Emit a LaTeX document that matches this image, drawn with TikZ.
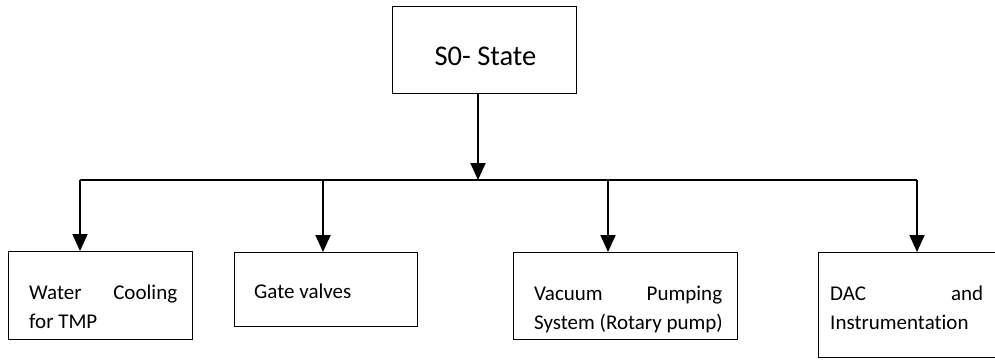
\documentclass[tikz,border=0pt]{standalone}
\usepackage{fontspec}
\setmainfont[Ligatures={NoCommon}]{Carlito}
\usetikzlibrary{arrows.meta}
\begin{document}
\begin{tikzpicture}[x=1pt,y=-1pt,
  box/.style={draw=black,line width=1.4pt,inner sep=0pt,anchor=north west},
  txt/.style={inner sep=0pt,anchor=base west,font=\fontsize{21}{25}\selectfont},
  link/.style={line width=1.9pt},
  arr/.style={line width=1.9pt,-{Triangle[width=15pt,length=17pt]}}]
\useasboundingbox (0,0) rectangle (995,360);
\clip (0,0) rectangle (995,360);
% top box
\node[box,minimum width=184pt,minimum height=87pt] (top) at (392,6) {};
\node[inner sep=0pt,anchor=base,font=\fontsize{28.5}{32}\selectfont] (toptxt) at (485.5,65) {S0- State};
% bus
\coordinate (j) at (478,180);
\coordinate (L) at (80,180);
\coordinate (R) at (917,180);
\coordinate (c2) at (323,180);
\coordinate (c3) at (608,180);
\draw[arr] (top.south -| j) -- (j);
\draw[link] (L) -- (R);
% child boxes
\node[box,minimum width=184pt,minimum height=88pt] (b1) at (8,251) {};
\node[box,minimum width=183pt,minimum height=74pt] (b2) at (234,252) {};
\node[box,minimum width=224pt,minimum height=87pt] (b3) at (513,252) {};
\node[box,minimum width=180pt,minimum height=105pt] (b4) at (818,252) {};
% arrows
\draw[arr] (L) -- (b1.north -| L);
\draw[arr] (c2) -- (b2.north -| c2);
\draw[arr] (c3) -- (b3.north -| c3);
\draw[arr] (R) -- (b4.north -| R);
% texts
\node[txt] (t1a) at (29,299) {\makebox[148pt][s]{Water Cooling}};
\node[txt] (t1b) at (29,328) {for TMP};
\node[txt] (t2) at (254,298) {Gate valves};
\node[txt] (t3a) at (534,300) {\makebox[188pt][s]{Vacuum Pumping}};
\node[txt] (t3b) at (534,329) {System (Rotary pump)};
\node[txt] (t4a) at (830,300) {\makebox[153pt][s]{DAC and}};
\node[txt] (t4b) at (830,329) {Instrumentation};
\end{tikzpicture}
\end{document}
